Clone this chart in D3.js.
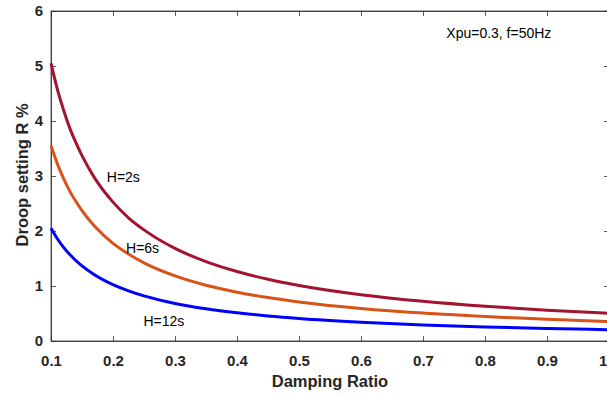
<!DOCTYPE html>
<html><head><meta charset="utf-8">
<script src="https://cdn.jsdelivr.net/npm/d3@7"></script>
<style>body{margin:0;background:#fff;overflow:hidden}svg{display:block}</style>
</head><body>
<script>
const zeta = [0.1,0.11,0.12,0.13,0.14,0.15,0.17,0.2,0.225,0.25,0.3,0.35,0.4,0.45,0.5,0.6,0.7,0.8,0.9,1.0];
const rH2  = [5.05,4.59,4.21,3.88,3.61,3.37,2.97,2.525,2.24,2.02,1.683,1.443,1.263,1.122,1.01,0.842,0.721,0.631,0.561,0.505];
const rH6  = [3.55,3.23,2.96,2.73,2.54,2.37,2.09,1.775,1.58,1.42,1.183,1.014,0.888,0.789,0.71,0.592,0.507,0.444,0.394,0.355];
const rH12 = [2.05,1.864,1.708,1.577,1.464,1.367,1.206,1.025,0.911,0.82,0.683,0.586,0.513,0.456,0.41,0.342,0.293,0.256,0.228,0.205];
const xTicks = [0.1,0.2,0.3,0.4,0.5,0.6,0.7,0.8,0.9,1];
const yTicks = [0,1,2,3,4,5,6];
const seriesNames = ["H=2s","H=6s","H=12s"];
const seriesColors = ["#A2142F","#D95319","#0000FF"];

const W=607,H=394;
const svg=d3.select("body").append("svg").attr("width",W).attr("height",H);
const x=d3.scaleLinear().domain([0.1,1]).range([51,609]);
const y=d3.scaleLinear().domain([0,6]).range([341,11]);
const axCol="#262626";
const font="Arial, 'Liberation Sans', Helvetica, sans-serif";

svg.append("rect").attr("x",51).attr("y",11).attr("width",558).attr("height",330)
  .attr("fill","none").attr("stroke",axCol).attr("stroke-width",1).attr("opacity",0.75);

const xa=svg.append("g").attr("transform","translate(0,341)")
  .call(d3.axisBottom(x).tickValues(xTicks).tickSizeInner(-5).tickSizeOuter(0).tickPadding(14).tickFormat(d3.format(".1f")));
const xt=svg.append("g").attr("transform","translate(0,11)")
  .call(d3.axisTop(x).tickValues(xTicks).tickSizeInner(-5).tickSizeOuter(0).tickFormat(""));
const ya=svg.append("g").attr("transform","translate(51,0)")
  .call(d3.axisLeft(y).tickValues(yTicks).tickSizeInner(-5).tickSizeOuter(0).tickPadding(8).tickFormat(d3.format("d")));
const yr=svg.append("g").attr("transform","translate(609,0)")
  .call(d3.axisRight(y).tickValues(yTicks).tickSizeInner(-5).tickSizeOuter(0).tickFormat(""));
[xa,xt,ya,yr].forEach(g=>{
  g.select(".domain").attr("stroke",axCol).attr("opacity",0.75);
  g.selectAll(".tick line").attr("stroke",axCol).attr("opacity",0.75);
  g.selectAll("text").attr("fill",axCol).style("font-family",font).style("font-size","15px").style("font-weight","bold");
});

const line=d3.line().x((d,i)=>x(zeta[i])).y(d=>y(d)).curve(d3.curveMonotoneX);
[rH2,rH6,rH12].forEach((s,k)=>{
  svg.append("path").datum(s).attr("d",line).attr("fill","none")
    .attr("stroke",seriesColors[k]).attr("stroke-width",3).attr("stroke-linejoin","round");
});

const labels=[{t:seriesNames[0],zx:0.19,vy:2.9},{t:seriesNames[1],zx:0.221,vy:1.6},{t:seriesNames[2],zx:0.249,vy:0.27}];
labels.forEach(l=>{
  svg.append("text").attr("x",x(l.zx)).attr("y",y(l.vy)).text(l.t)
    .attr("fill","#000").style("font-family",font).style("font-size","14px");
});
svg.append("text").attr("x",x(0.7376)).attr("y",y(5.51)).text("Xpu=0.3, f=50Hz")
  .attr("fill","#000").style("font-family",font).style("font-size","14px");

svg.append("text").attr("x",330).attr("y",387).attr("text-anchor","middle").text("Damping Ratio")
  .attr("fill",axCol).style("font-family",font).style("font-size","16.5px").style("font-weight","bold");
svg.append("text").attr("transform","translate(28,"+y(3.02)+") rotate(-90)").attr("text-anchor","middle").text("Droop setting R %")
  .attr("fill",axCol).style("font-family",font).style("font-size","16.5px").style("font-weight","bold");
</script>
</body></html>
